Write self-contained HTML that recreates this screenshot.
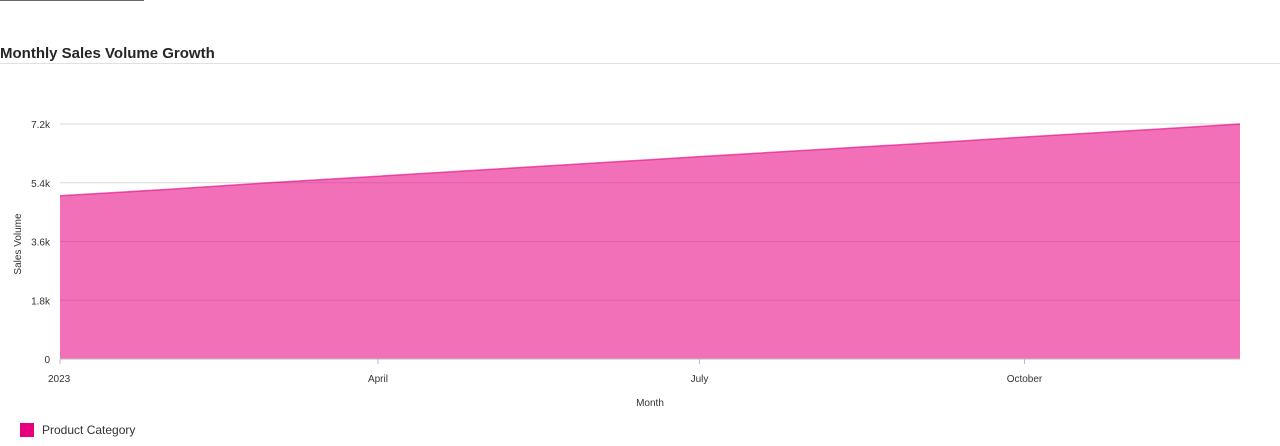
<!DOCTYPE html>
<html><head><meta charset="utf-8"><style>
body{margin:0;width:1280px;height:446px;background:#fff;overflow:hidden;font-family:"Liberation Sans",sans-serif;position:relative}
</style></head><body>
<div style="position:absolute;left:0;top:0;width:144px;height:1px;background:#666"></div>
<div style="position:absolute;left:0;top:45px;font-size:15px;font-weight:bold;color:#252525">Monthly Sales Volume Growth</div>
<div style="position:absolute;left:0;top:63px;width:1280px;height:1px;background:#e0e0e0"></div>
<svg id="chart" width="1280" height="446" style="position:absolute;left:0;top:0"></svg>
<div style="position:absolute;left:20px;top:423px;font-size:12px;color:#333;display:flex;align-items:center">
<span style="display:inline-block;width:14px;height:14px;background:#e6007e;margin-right:8px"></span>Product Category</div>
<script>
const months=[0,1,2,3,4,5,6,7,8,9,10,11];
const sales=[5000,5200,5400,5600,5800,6000,6200,6400,6600,6800,7000,7200];
const yTicks=[0,1800,3600,5400,7200];
const yTickLabels=["0","1.8k","3.6k","5.4k","7.2k"];
const xTickMonths=[0,3,6,9];
const xTickLabels=["2023","April","July","October"];
const svg=document.getElementById('chart');
const NS='http://www.w3.org/2000/svg';
const dayOfYear=m=>(new Date(2023,m,1)-new Date(2023,0,1))/864e5;
const x0=60,x1=1240,y0=359,y1=124,yMax=7200;
const xs=m=>x0+dayOfYear(m)/dayOfYear(11)*(x1-x0);
const ys=v=>y0-v/yMax*(y0-y1);
function mk(t,a){const e=document.createElementNS(NS,t);for(const k in a)e.setAttribute(k,a[k]);svg.appendChild(e);return e;}
yTicks.forEach((v,i)=>{
 const g=mk('line',{x1:x0,x2:x1,y1:ys(v),y2:ys(v),stroke:'#d9d9d9','stroke-width':1});
 
 
 const t=mk('text',{x:50,y:ys(v)+4,'text-anchor':'end','font-size':10,fill:'#333'});
 t.textContent=yTickLabels[i];
 
 
});
let d=`M${xs(months[0])},${ys(0)}`;
months.forEach((m,i)=>d+=`L${xs(m)},${ys(sales[i])}`);
d+=`L${xs(months[months.length-1])},${ys(0)}Z`;
const area=mk('path',{d:d,fill:'#e6007e','fill-opacity':0.56});


const ld=months.map((m,i)=>(i?'L':'M')+xs(m)+','+ys(sales[i])).join('');
const ln=mk('path',{d:ld,fill:'none',stroke:'#e6007e','stroke-width':1.5,'stroke-opacity':0.6});


const ax=mk('line',{x1:x0,x2:x1,y1:y0,y2:y0,stroke:'#bbb','stroke-width':1});


xTickMonths.forEach((m,i)=>{
 const tk=mk('line',{x1:xs(m),x2:xs(m),y1:y0,y2:y0+5,stroke:'#bbb'});
 
 
 const t=mk('text',{x:xs(m),y:382,'text-anchor':i==0?'start':'middle','font-size':10,fill:'#333'});
 if(i==0)t.setAttribute('x',xs(m)-12);
 t.textContent=xTickLabels[i];
 
 
});
const xt=mk('text',{x:650,y:406,'text-anchor':'middle','font-size':10,fill:'#333'});
xt.textContent='Month';


const yt=mk('text',{x:0,y:0,'text-anchor':'middle','font-size':10,fill:'#333',transform:'translate(21,244) rotate(-90)'});
yt.textContent='Sales Volume';


</script>
</body></html>
